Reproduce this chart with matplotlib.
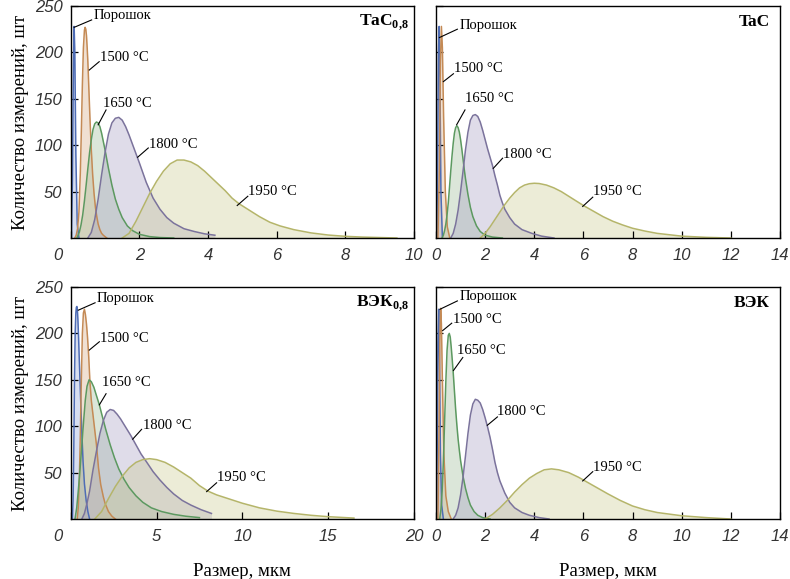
import matplotlib
matplotlib.use("Agg")
import matplotlib.pyplot as plt
from matplotlib.transforms import ScaledTranslation

# ── Grain size distributions (size in мкм, count) ───────────────────────────
TAC08_POWDER_X = [0.02, 0.05, 0.08, 0.10, 0.12, 0.15, 0.19, 0.24]
TAC08_POWDER_Y = [0, 60, 190, 228, 200, 90, 15, 0]
TAC08_1500_X = [0.12, 0.16, 0.20, 0.24, 0.28, 0.31, 0.34, 0.37, 0.40, 0.42, 0.44, 0.46, 0.48, 0.50,
                0.53, 0.56, 0.60, 0.64, 0.68, 0.72, 0.76, 0.80, 0.85, 0.90, 0.95, 1.05]
TAC08_1500_Y = [0, 3, 10, 28, 70, 115, 165, 205, 224, 227, 225, 218, 205, 190,
                160, 130, 95, 68, 48, 33, 23, 15, 9, 5, 3, 0]
TAC08_1650_X = [0.18, 0.25, 0.30, 0.35, 0.40, 0.45, 0.50, 0.55, 0.60, 0.65, 0.70, 0.75, 0.80, 0.85,
                0.90, 1.00, 1.10, 1.20, 1.30, 1.40, 1.50, 1.65, 1.80, 2.00, 2.30, 2.60, 3.00]
TAC08_1650_Y = [0, 6, 14, 25, 40, 57, 75, 92, 106, 117, 123, 125, 124, 120,
                113, 95, 75, 57, 42, 31, 22, 13, 8, 4, 1.5, 0.5, 0]
TAC08_1800_X = [0.5, 0.6, 0.7, 0.8, 0.9, 1.0, 1.1, 1.2, 1.3, 1.4, 1.5, 1.6, 1.7, 1.8, 1.9, 2.0,
                2.2, 2.4, 2.6, 2.8, 3.0, 3.3, 3.6, 3.9, 4.2]
TAC08_1800_Y = [0, 6, 20, 42, 68, 92, 112, 124, 129, 130, 127, 120, 111, 101, 91, 81,
                60, 43, 31, 22, 16, 10, 7, 4.5, 3]
TAC08_1950_X = [1.5, 1.7, 1.9, 2.1, 2.3, 2.5, 2.7, 2.9, 3.1, 3.3, 3.5, 3.7, 3.9, 4.1, 4.3, 4.5,
                4.7, 4.9, 5.2, 5.5, 5.8, 6.1, 6.5, 7.0, 7.5, 8.0, 8.5, 9.0, 9.5]
TAC08_1950_Y = [0, 5, 18, 33, 48, 61, 72, 80, 84, 84, 82, 78, 72, 65, 58, 51,
                43, 37, 30, 23, 17, 13, 9, 5.5, 3.2, 1.8, 1, 0.5, 0]

TAC_POWDER_X = [0.03, 0.07, 0.10, 0.13, 0.16, 0.20, 0.26]
TAC_POWDER_Y = [0, 90, 200, 228, 170, 50, 0]
TAC_1500_X = [0.08, 0.14, 0.18, 0.22, 0.26, 0.31, 0.38, 0.46, 0.56]
TAC_1500_Y = [0, 80, 190, 228, 205, 130, 50, 12, 0]
TAC_1650_X = [0.25, 0.30, 0.35, 0.40, 0.45, 0.50, 0.55, 0.60, 0.65, 0.70, 0.75, 0.80, 0.85, 0.90,
              0.95, 1.00, 1.05, 1.10, 1.15, 1.20, 1.30, 1.40, 1.50, 1.65, 1.80, 2.00, 2.30, 2.70]
TAC_1650_Y = [0, 3, 8, 15, 25, 38, 55, 72, 88, 102, 113, 119, 121, 119,
              114, 106, 96, 85, 74, 64, 47, 33, 23, 13, 7, 3, 1, 0]
TAC_1800_X = [0.6, 0.7, 0.8, 0.9, 1.0, 1.1, 1.2, 1.3, 1.4, 1.5, 1.6, 1.7, 1.8, 1.9, 2.0, 2.1,
              2.2, 2.3, 2.4, 2.5, 2.6, 2.7, 2.8, 3.0, 3.2, 3.5, 3.9, 4.3, 4.8]
TAC_1800_Y = [0, 5, 15, 30, 50, 72, 95, 114, 127, 132, 133, 131, 125, 116, 106, 96,
              87, 78, 67, 57, 46, 38, 31, 22, 15, 9, 5, 2, 0]
TAC_1950_X = [1.8, 2.0, 2.2, 2.4, 2.6, 2.8, 3.0, 3.2, 3.4, 3.6, 3.8, 4.0, 4.2, 4.5, 4.8, 5.1,
              5.4, 5.7, 6.0, 6.4, 6.8, 7.2, 7.6, 8.0, 8.5, 9.0, 9.5, 10.0, 11.0, 12.0]
TAC_1950_Y = [0, 5, 12, 20, 28, 36, 43, 49, 54, 57, 58.5, 59, 58.7, 57, 54, 50,
              45, 40, 35, 29, 23, 18, 14, 10.5, 7.5, 5, 3.5, 2, 0.7, 0]

VEK08_POWDER_X = [0.10, 0.14, 0.18, 0.22, 0.26, 0.30, 0.33, 0.36, 0.39, 0.42, 0.46, 0.50, 0.55, 0.60,
                  0.66, 0.72, 0.80, 0.90, 1.00, 1.10]
VEK08_POWDER_Y = [0, 20, 75, 150, 200, 222, 228, 229, 225, 215, 195, 172, 145, 118,
                  88, 62, 38, 20, 8, 0]
VEK08_1500_X = [0.38, 0.44, 0.50, 0.56, 0.62, 0.68, 0.74, 0.80, 0.86, 0.92, 0.98, 1.05, 1.12, 1.20,
                1.30, 1.40, 1.50, 1.62, 1.75, 1.90, 2.00, 2.20, 2.40, 2.60]
VEK08_1500_Y = [0, 12, 40, 90, 150, 200, 222, 226, 220, 210, 196, 175, 148, 128,
                112, 96, 80, 55, 37, 24, 17, 8, 3, 0]
VEK08_1650_X = [0.25, 0.35, 0.45, 0.55, 0.65, 0.75, 0.85, 0.95, 1.07, 1.20, 1.35, 1.50, 1.67, 1.85,
                2.05, 2.30, 2.55, 2.80, 3.10, 3.40, 3.80, 4.20, 4.70, 5.30, 6.00, 6.70, 7.50]
VEK08_1650_Y = [0, 12, 32, 55, 80, 105, 128, 143, 150, 148, 142, 133, 123, 110,
                96, 80, 66, 54, 43, 34, 25, 18, 12, 8, 5, 3, 1.5]
VEK08_1800_X = [0.65, 0.80, 0.95, 1.10, 1.30, 1.50, 1.70, 1.90, 2.10, 2.30, 2.50, 2.70, 2.90, 3.20,
                3.50, 3.80, 4.10, 4.40, 4.80, 5.20, 5.60, 6.00, 6.50, 7.00, 7.60, 8.20]
VEK08_1800_Y = [0, 6, 17, 30, 53, 73, 92, 106, 115, 118, 117, 113, 108, 99,
                90, 80, 70, 62, 51, 42, 34, 27, 20, 15, 10, 6]
VEK08_1950_X = [1.4, 1.8, 2.2, 2.6, 3.0, 3.4, 3.8, 4.2, 4.6, 5.0, 5.5, 6.0, 6.5, 7.0, 7.5, 8.0,
                8.5, 9.0, 10.0, 11.0, 12.0, 13.0, 14.0, 15.0, 16.5]
VEK08_1950_Y = [0, 8, 22, 35, 46, 55, 61, 64, 65, 64, 61, 56, 50, 44, 36, 30,
                26, 23, 17, 12, 8.5, 6, 4, 2.5, 1]

VEK_POWDER_X = [0.02, 0.05, 0.08, 0.11, 0.14, 0.18, 0.23, 0.30]
VEK_POWDER_Y = [0, 80, 190, 226, 180, 70, 15, 0]
VEK_1500_X = [0.08, 0.12, 0.16, 0.19, 0.22, 0.26, 0.32, 0.40, 0.50, 0.62]
VEK_1500_Y = [0, 90, 200, 227, 210, 150, 70, 25, 8, 0]
VEK_1650_X = [0.15, 0.20, 0.25, 0.30, 0.35, 0.40, 0.45, 0.50, 0.54, 0.58, 0.62, 0.66, 0.70, 0.75,
              0.80, 0.85, 0.90, 0.95, 1.00, 1.10, 1.20, 1.30, 1.40, 1.55, 1.70, 1.90, 2.20]
VEK_1650_Y = [0, 10, 30, 62, 105, 148, 182, 198, 200, 196, 185, 172, 158, 138,
              118, 101, 86, 74, 63, 46, 33, 23, 15, 8, 4, 1.5, 0]
VEK_1800_X = [0.7, 0.8, 0.9, 1.0, 1.1, 1.2, 1.3, 1.4, 1.5, 1.6, 1.7, 1.8, 1.9, 2.0, 2.1, 2.2,
              2.3, 2.4, 2.5, 2.6, 2.8, 3.0, 3.2, 3.5, 3.8, 4.2, 4.6]
VEK_1800_Y = [0, 4, 12, 26, 45, 68, 92, 112, 124, 129, 128, 125, 118, 109, 99, 88,
              75, 61, 50, 41, 28, 18, 12, 7, 4, 1.5, 0]
VEK_1950_X = [2.0, 2.3, 2.6, 2.9, 3.2, 3.5, 3.8, 4.1, 4.4, 4.7, 5.0, 5.4, 5.8, 6.2, 6.6, 7.0,
              7.5, 8.0, 8.5, 9.0, 10.0, 11.0, 12.0]
VEK_1950_Y = [0, 5, 12, 20, 29, 37, 44, 49, 53, 54, 53, 50, 45, 39, 33, 27,
              20, 14, 10, 7, 3.5, 1.5, 0]

SERIES_NAMES = ["Порошок", "1500 °C", "1650 °C", "1800 °C", "1950 °C"]
PANEL_TITLES = [r"TaC$_{\mathbf{0{,}8}}$", "TaC", r"ВЭК$_{\mathbf{0{,}8}}$", "ВЭК"]
X_MAX = [10, 14, 20, 14]
X_TICKS = [[0, 2, 4, 6, 8, 10], [0, 2, 4, 6, 8, 10, 12, 14],
           [0, 5, 10, 15, 20], [0, 2, 4, 6, 8, 10, 12, 14]]
Y_TICKS = [50, 100, 150, 200, 250]

# ── Colour palette ──────────────────────────────────────────────────────────
LINE_COLORS = ["#4f6db5", "#c48a55", "#5c9960", "#7b739c", "#b5b56a"]
FILL_COLORS = ["#8fa3d6", "#d4a880", "#9ab894", "#a49cc0", "#c9c98f"]

SERIF = ["Liberation Serif", "DejaVu Serif"]
plt.rcParams.update({
    "mathtext.fontset": "custom",
    "mathtext.rm": "Liberation Serif",
    "mathtext.bf": "Liberation Serif:bold",
})

# leader lines: (text_x, text_y, curve_x, curve_y, end_x, end_y), data units
LEADERS = [
    [(0.66, 240, 0.10, 227, 0.61, 235), (0.85, 195, 0.54, 181, 0.83, 190),
     (0.93, 145, 0.80, 122, 1.03, 138), (2.29, 101, 1.95, 87, 2.26, 97),
     (5.16, 50, 4.85, 35, 5.16, 45)],
    [(0.95, 229.5, 0.14, 216, 0.87, 225), (0.73, 183, 0.30, 168.5, 0.71, 177),
     (1.18, 150.5, 0.84, 122, 1.18, 138), (2.74, 90.5, 2.33, 75, 2.71, 86),
     (6.38, 50, 5.97, 34, 6.38, 44)],
    [(1.51, 238, 0.44, 225, 1.42, 233), (1.71, 195, 1.08, 182, 1.67, 191),
     (1.80, 147, 1.67, 123, 2.06, 135), (4.19, 101, 3.61, 86, 4.13, 96.6),
     (8.54, 45, 7.92, 29.5, 8.50, 39)],
    [(0.95, 239.6, 0.16, 226, 0.87, 235), (0.68, 215, 0.27, 203, 0.64, 211),
     (0.85, 182, 0.71, 160, 1.09, 174), (2.50, 115.6, 2.09, 101, 2.50, 110),
     (6.40, 56, 5.97, 41, 6.38, 51)],
]

panels = [
    [(TAC08_POWDER_X, TAC08_POWDER_Y), (TAC08_1500_X, TAC08_1500_Y), (TAC08_1650_X, TAC08_1650_Y),
     (TAC08_1800_X, TAC08_1800_Y), (TAC08_1950_X, TAC08_1950_Y)],
    [(TAC_POWDER_X, TAC_POWDER_Y), (TAC_1500_X, TAC_1500_Y), (TAC_1650_X, TAC_1650_Y),
     (TAC_1800_X, TAC_1800_Y), (TAC_1950_X, TAC_1950_Y)],
    [(VEK08_POWDER_X, VEK08_POWDER_Y), (VEK08_1500_X, VEK08_1500_Y), (VEK08_1650_X, VEK08_1650_Y),
     (VEK08_1800_X, VEK08_1800_Y), (VEK08_1950_X, VEK08_1950_Y)],
    [(VEK_POWDER_X, VEK_POWDER_Y), (VEK_1500_X, VEK_1500_Y), (VEK_1650_X, VEK_1650_Y),
     (VEK_1800_X, VEK_1800_Y), (VEK_1950_X, VEK_1950_Y)],
]

fig = plt.figure(figsize=(7.9, 5.79), dpi=100)
W, H = 790, 579
boxes = [(70.7, 6, 414, 238), (436, 6, 780, 238),
         (70.7, 287, 414, 519), (436, 287, 780, 519)]

tick_font = dict(family=["Liberation Sans", "DejaVu Sans"], style="italic",
                 size=12, color="#333333")

for i, (x0, y0, x1, y1) in enumerate(boxes):
    ax = fig.add_axes([x0 / W, 1 - y1 / H, (x1 - x0) / W, (y1 - y0) / H])

    # fills first, outlines on top
    for (xs, ys), fc in zip(panels[i], FILL_COLORS):
        ax.fill_between(xs, 0, ys, color=fc, alpha=0.35, lw=0)
    for (xs, ys), lc in zip(panels[i], LINE_COLORS):
        ax.plot(xs, ys, color=lc, lw=1.1)

    for tx, ty, cx, cy, ex, ey in LEADERS[i]:
        ax.plot([cx, ex], [cy, ey], color="black", lw=0.8)
    for (tx, ty, *_), name in zip(LEADERS[i], SERIES_NAMES):
        ax.text(tx, ty, name, family=SERIF, fontsize=10.5, ha="left", va="center")

    ax.text(0.985 if i % 2 == 0 else 0.97, 0.93, PANEL_TITLES[i], transform=ax.transAxes,
            family=SERIF, fontweight="bold", fontsize=12.5, ha="right", va="center")

    ax.set_xlim(0, X_MAX[i])
    ax.set_ylim(0, 250)
    ax.set_xticks(X_TICKS[i])
    ax.set_yticks(Y_TICKS)
    ax.tick_params(direction="in", length=5, width=0.9, pad=7)
    for s in ax.spines.values():
        s.set_linewidth(1.0)

    xlabels = [str(t) for t in X_TICKS[i]]
    if i % 2 == 0:
        # origin label sits left of the frame on the left-hand panels
        xlabels[0] = ""
        off = ScaledTranslation(-12.7 / 100, 0, fig.dpi_scale_trans)
        ax.text(0, -0.075, "0", transform=ax.transAxes + off,
                ha="center", va="center", **tick_font)
        ax.set_yticklabels([str(t) for t in Y_TICKS], fontdict=tick_font)
        ax.set_ylabel("Количество измерений, шт", family=SERIF, fontsize=13.5, labelpad=4)
    else:
        ax.set_yticklabels([])
    ax.set_xticklabels(xlabels, fontdict=tick_font)
    ax.tick_params(axis="y", pad=6)

    if i >= 2:
        ax.set_xlabel("Размер, мкм", family=SERIF, fontsize=13.5, labelpad=14)

fig.savefig("out.png", dpi=100)
